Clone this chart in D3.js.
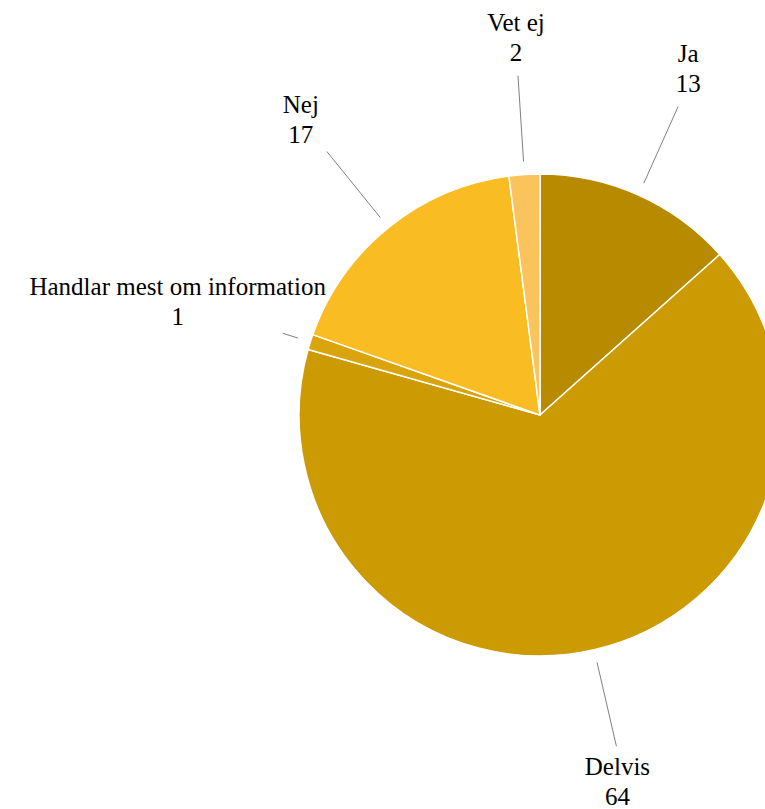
<!DOCTYPE html>
<html>
<head>
<meta charset="utf-8">
<script src="https://cdn.jsdelivr.net/npm/d3@7"></script>
<style>
  body { margin: 0; background: #fff; }
</style>
</head>
<body>
<div id="pie-container"></div>
<script>
const categories = ['Ja', 'Delvis', 'Handlar mest om information', 'Nej', 'Vet ej']
const values = [13, 64, 1, 17, 2]
const colors = ['#b88a00', '#cc9a02', '#d9a40c', '#f9bc22', '#fac35c']

const width = 765
const height = 809
const cx = 540
const cy = 415
const radius = 241

// label offsets from the end of each leader line
const labelOffsets = [[10, -45], [1, 29], [-105, -38], [-26, -38], [-2, -45]]
const lineOuter = [338, 340, 270, 339, 340]

const data = categories.map((c, i) => ({ label: c, value: values[i] }))

const svg = d3.select('#pie-container')
  .append('svg')
  .attr('width', width)
  .attr('height', height)

const g = svg.append('g').attr('transform', `translate(${cx}, ${cy})`)

const pieGenerator = d3.pie().sort(null).value(d => d.value)
const arcGenerator = d3.arc().innerRadius(0).outerRadius(radius)
const arcs = pieGenerator(data)

g.selectAll('path')
  .data(arcs)
  .enter()
  .append('path')
  .attr('d', arcGenerator)
  .style('fill', (_, i) => colors[i])
  .style('stroke', '#ffffff')
  .style('stroke-width', 1.5)

const polar = (a, r) => [Math.sin(a) * r, -Math.cos(a) * r]

arcs.forEach((d, i) => {
  const mid = (d.startAngle + d.endAngle) / 2
  const [x1, y1] = polar(mid, 254)
  const [x2, y2] = polar(mid, lineOuter[i])
  g.append('line')
    .attr('x1', x1).attr('y1', y1)
    .attr('x2', x2).attr('y2', y2)
    .style('stroke', '#808080')
    .style('stroke-width', 1)

  const [ox, oy] = labelOffsets[i]
  const t = g.append('text')
    .attr('text-anchor', 'middle')
    .style('font-family', '"Liberation Serif", serif')
    .style('font-size', '25px')
    .style('fill', '#000')
    .attr('transform', `translate(${x2 + ox}, ${y2 + oy})`)
  t.append('tspan').attr('x', 0).attr('dy', 0).text(d.data.label)
  t.append('tspan').attr('x', 0).attr('dy', 30).text(d.data.value)
})
</script>
</body>
</html>
